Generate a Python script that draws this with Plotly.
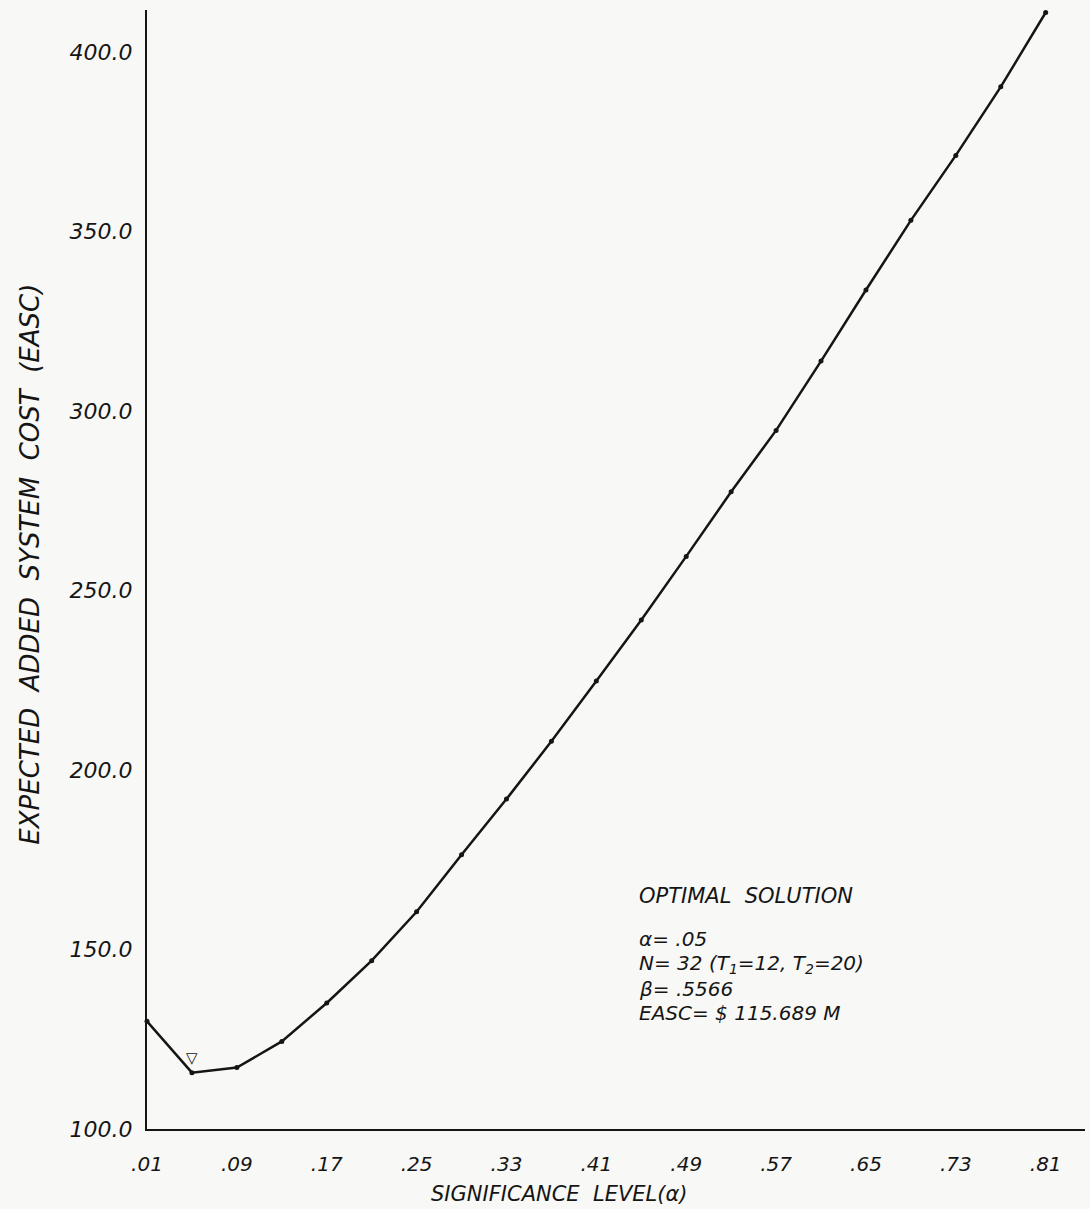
import plotly.graph_objects as go

alpha = [0.01, 0.05, 0.09, 0.13, 0.17, 0.21, 0.25, 0.29, 0.33, 0.37, 0.41,
         0.45, 0.49, 0.53, 0.57, 0.61, 0.65, 0.69, 0.73, 0.77, 0.81]
easc = [130.0, 115.7, 117.1, 124.4, 135.1, 146.9, 160.5, 176.4, 191.9, 208.0, 224.8,
        241.8, 259.5, 277.5, 294.6, 313.9, 333.7, 353.1, 371.2, 390.3, 411.0]

x_ticks = [0.01, 0.09, 0.17, 0.25, 0.33, 0.41, 0.49, 0.57, 0.65, 0.73, 0.81]
x_tick_text = [".01", ".09", ".17", ".25", ".33", ".41", ".49", ".57", ".65", ".73", ".81"]
y_ticks = [100, 150, 200, 250, 300, 350, 400]
y_tick_text = ["100.0", "150.0", "200.0", "250.0", "300.0", "350.0", "400.0"]

opt_alpha = 0.05
opt_easc = 115.689

solution_lines = [
    "OPTIMAL  SOLUTION",
    "α= .05",
    "N= 32 (T<sub>1</sub>=12, T<sub>2</sub>=20)",
    "β= .5566",
    "EASC= $ 115.689 M",
]
solution_y = [0.208, 0.1695, 0.1475, 0.1255, 0.1035]
solution_size = [21, 20, 20, 20, 20]

font_family = "DejaVu Sans"
ink = "#151515"
paper = "#f8f8f6"

fig = go.Figure()
fig.add_trace(go.Scatter(
    x=alpha, y=easc, mode="lines+markers",
    line=dict(color=ink, width=2.5),
    marker=dict(color=ink, size=5),
    showlegend=False, cliponaxis=False,
))

# optimum marker (open triangle above the minimum)
fig.add_annotation(x=opt_alpha, y=opt_easc, text="▽", showarrow=False,
                   yshift=15, font=dict(family=font_family, size=15, color=ink))

# optimal solution text block
for line, yy, sz in zip(solution_lines, solution_y, solution_size):
    fig.add_annotation(
        xref="paper", yref="paper", x=0.522, y=yy, xanchor="left", yanchor="middle",
        align="left", showarrow=False, text=line,
        font=dict(family=font_family, size=sz, color=ink, style="italic"),
    )

# axis titles
fig.add_annotation(xref="paper", yref="paper", x=0.44, y=-0.058,
                   xanchor="center", yanchor="middle", showarrow=False,
                   text="SIGNIFICANCE  LEVEL(α)",
                   font=dict(family=font_family, size=21, color=ink, style="italic"))
fig.add_annotation(xref="paper", yref="paper", x=-0.125, y=0.505,
                   xanchor="center", yanchor="middle", showarrow=False,
                   textangle=-90,
                   text="EXPECTED  ADDED  SYSTEM  COST  (EASC)",
                   font=dict(family=font_family, size=26, color=ink, style="italic"))

fig.update_xaxes(
    range=[0.01, 0.845], tickvals=x_ticks, ticktext=x_tick_text,
    showgrid=False, zeroline=False, showline=True, linecolor=ink, linewidth=2,
    ticks="outside", ticklen=0, ticklabelstandoff=16,
    tickfont=dict(family=font_family, size=20, color=ink, style="italic"),
)
fig.update_yaxes(
    range=[100, 411.7], tickvals=y_ticks, ticktext=y_tick_text,
    showgrid=False, zeroline=False, showline=True, linecolor=ink, linewidth=2,
    ticks="outside", ticklen=0, ticklabelstandoff=8,
    tickfont=dict(family=font_family, size=22, color=ink, style="italic"),
)

fig.update_layout(
    width=1090, height=1209,
    margin=dict(l=147, r=5, t=10, b=80),
    paper_bgcolor=paper, plot_bgcolor=paper,
)

fig.write_html("out.html")
